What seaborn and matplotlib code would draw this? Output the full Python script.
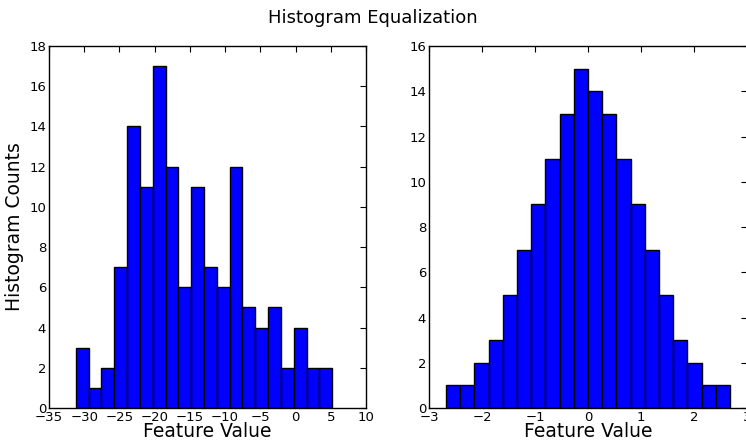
import numpy as np
import pandas as pd
import matplotlib
matplotlib.use("Agg")
import matplotlib.pyplot as plt
import seaborn as sns

# Data
left_counts = [3, 1, 2, 7, 14, 11, 17, 12, 6, 11, 7, 6, 12, 5, 4, 5, 2, 4, 2, 2]
left_range = [-31.2, 5.2]
right_counts = [1, 1, 2, 3, 5, 7, 9, 11, 13, 15, 14, 13, 11, 9, 7, 5, 3, 2, 1, 1]
right_range = [-2.68, 2.68]

left_xticks = [-35, -30, -25, -20, -15, -10, -5, 0, 5, 10]
left_yticks = [0, 2, 4, 6, 8, 10, 12, 14, 16, 18]
right_xticks = [-3, -2, -1, 0, 1, 2, 3]
right_yticks = [0, 2, 4, 6, 8, 10, 12, 14, 16]

sns.set_style("white")
plt.rcParams['font.family'] = ['DejaVu Sans']
plt.rcParams['text.color'] = 'black'
plt.rcParams['axes.labelcolor'] = 'black'
plt.rcParams['xtick.color'] = 'black'
plt.rcParams['ytick.color'] = 'black'

fig = plt.figure(figsize=(7.46, 4.44), dpi=100)
ax1 = fig.add_axes([49/746, 36/444, 317/746, 362/444])
ax2 = fig.add_axes([429/746, 36/444, 318/746, 362/444])


def draw(ax, counts, rng, xticks, yticks):
    n = len(counts)
    width = (rng[1] - rng[0]) / n
    centers = [rng[0] + width * (i + 0.5) for i in range(n)]
    df = pd.DataFrame({"x": centers, "w": counts})
    sns.histplot(data=df, x="x", weights="w", bins=n, binrange=(rng[0], rng[1]),
                 ax=ax, color="#0000ff", alpha=1.0, edgecolor="black", linewidth=1.0)
    ax.set_xlim(xticks[0], xticks[-1])
    ax.set_ylim(yticks[0], yticks[-1])
    ax.set_xticks(xticks)
    ax.set_yticks(yticks)
    ax.set_xticklabels([str(t).replace('-', '\u2212') for t in xticks])
    ax.tick_params(direction='in', top=True, right=True, length=4, width=0.8,
                   labelsize=9.5, color='black', labelcolor='black', pad=2)
    ax.set_xlabel("Feature Value", fontsize=13.5, labelpad=-1, color='black')
    ax.set_ylabel("")
    for s in ax.spines.values():
        s.set_color('black')
        s.set_linewidth(1.0)


draw(ax1, left_counts, left_range, left_xticks, left_yticks)
draw(ax2, right_counts, right_range, right_xticks, right_yticks)
ax1.set_ylabel("Histogram Counts", fontsize=13.5, labelpad=4, color='black')

fig.suptitle("Histogram Equalization", fontsize=13, y=0.98, color='black')
fig.savefig("out.png", dpi=100)
